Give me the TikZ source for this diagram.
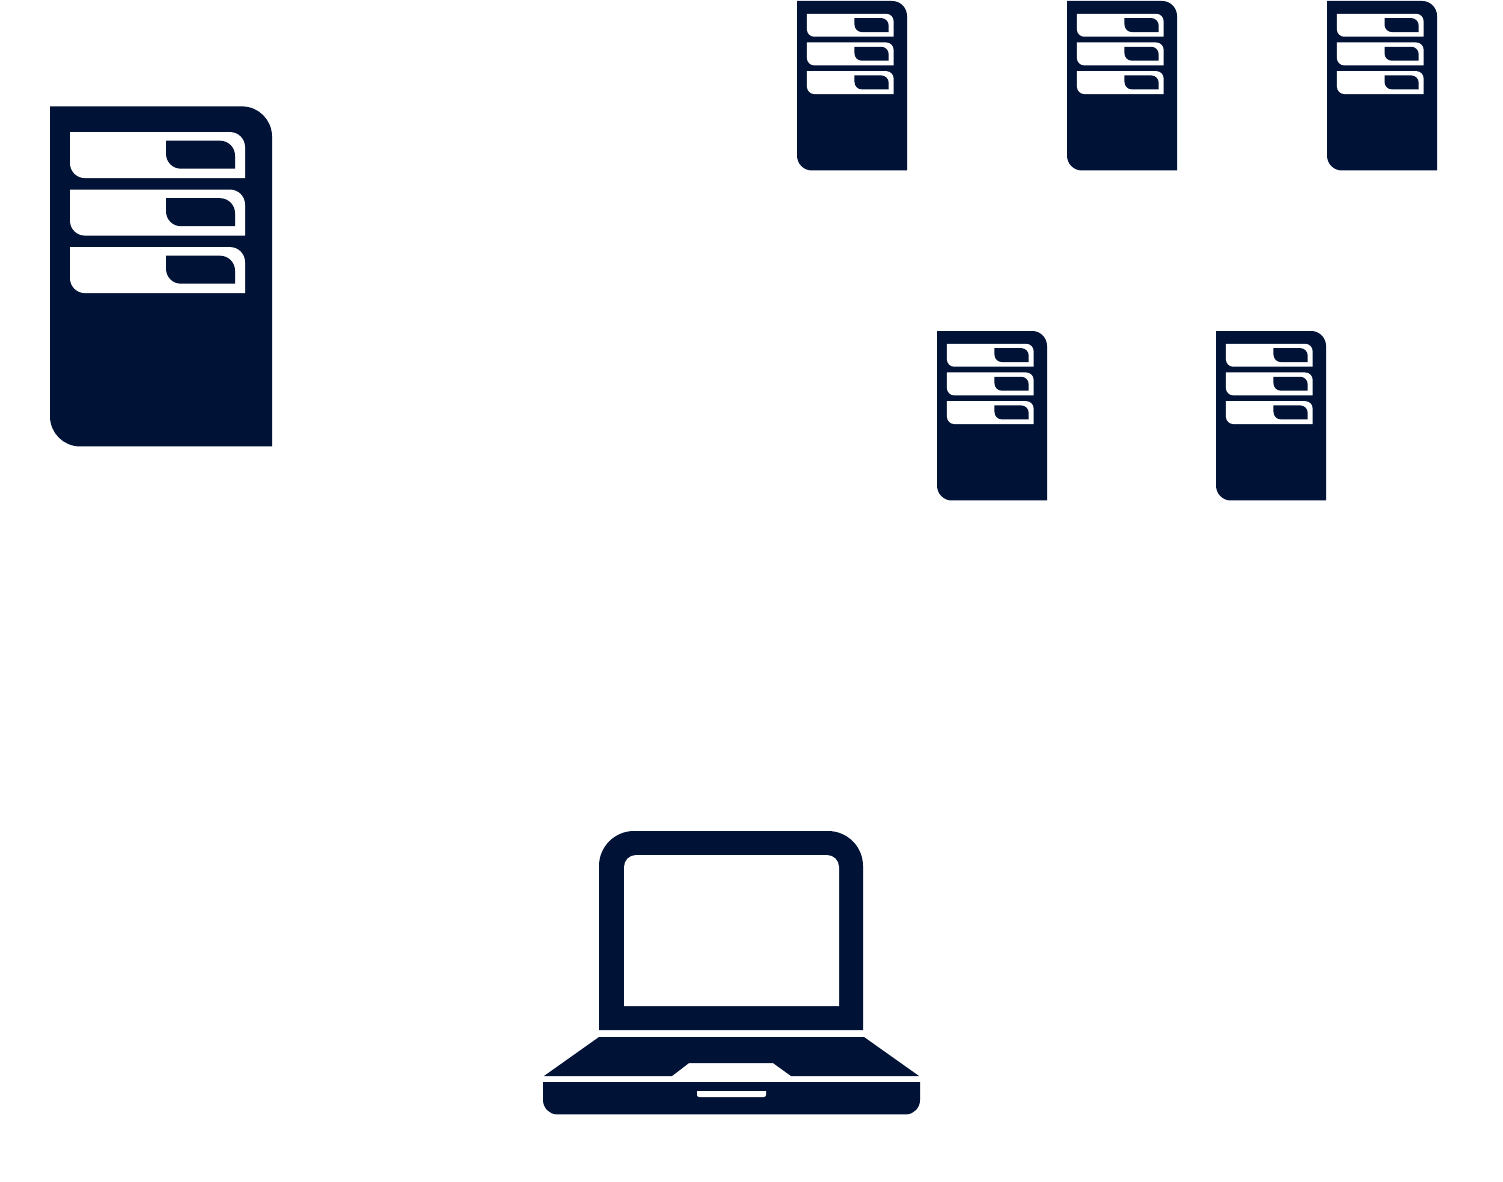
\documentclass[tikz,border=0pt]{standalone}
\usetikzlibrary{backgrounds}
\definecolor{navy}{HTML}{001235}
\tikzstyle{dark}=[fill=navy,draw=none]
\tikzstyle{hole}=[fill=white,draw=none]
\tikzstyle{small}=[xscale=0.4955,yscale=0.4985]
\tikzset{
	rack/.pic={
		\path [style=dark] (0, 0) -- (192, 0) .. controls (208.5, 0) and (222, 13.5) .. (222, 30) -- (222, 340) -- (30, 340) .. controls (13.5, 340) and (0, 326.5) .. (0, 310) -- cycle;
		\foreach \slot in {0, 57.5, 115} {
			\path [style=hole] (20, 25.7+\slot) -- (180, 25.7+\slot) .. controls (188.3, 25.7+\slot) and (195, 32.4+\slot) .. (195, 40.7+\slot) -- (195, 71.7+\slot) -- (35, 71.7+\slot) .. controls (26.7, 71.7+\slot) and (20, 65+\slot) .. (20, 56.7+\slot) -- cycle;
			\path [style=dark] (116, 34.3+\slot) -- (170, 34.3+\slot) .. controls (178.3, 34.3+\slot) and (185, 41+\slot) .. (185, 49.3+\slot) -- (185, 62.3+\slot) -- (131, 62.3+\slot) .. controls (122.7, 62.3+\slot) and (116, 55.6+\slot) .. (116, 47.3+\slot) -- cycle;
		}
	}
}

\begin{document}
\begin{tikzpicture}[x=0.5pt, y=-0.5pt]
	\useasboundingbox (0, 0) rectangle (1503, 1182);
	% racks
	\pic (main) at (50, 106.4) {rack};
	\pic [style=small] (top1) at (797, 1) {rack};
	\pic [style=small] (top2) at (1067, 1) {rack};
	\pic [style=small] (top3) at (1327, 1) {rack};
	\pic [style=small] (mid1) at (937, 331) {rack};
	\pic [style=small] (mid2) at (1216, 331) {rack};
	% laptop
	\path [style=dark] (599, 1030) -- (599, 866) .. controls (599, 846.7) and (614.7, 831) .. (634, 831) -- (828, 831) .. controls (847.3, 831) and (863, 846.7) .. (863, 866) -- (863, 1030) -- cycle;
	\path [style=hole] (624, 1006) -- (624, 867) .. controls (624, 860.4) and (629.4, 855) .. (636, 855) -- (827, 855) .. controls (833.6, 855) and (839, 860.4) .. (839, 867) -- (839, 1006) -- cycle;
	\path [style=dark] (599, 1037) -- (864, 1037) -- (919, 1076) -- (791, 1076) -- (773, 1063) -- (689, 1063) -- (672, 1076) -- (544, 1076) -- cycle;
	\path [style=dark] (543, 1082) -- (920, 1082) -- (920, 1100) .. controls (920, 1107.7) and (913.7, 1114.4) .. (906, 1114.4) -- (557, 1114.4) .. controls (549.3, 1114.4) and (543, 1107.7) .. (543, 1100) -- cycle;
	\path [style=hole] (697, 1091) -- (766, 1091) -- (766, 1095) .. controls (766, 1096.1) and (765.1, 1097) .. (764, 1097) -- (699, 1097) .. controls (697.9, 1097) and (697, 1096.1) .. (697, 1095) -- cycle;
\end{tikzpicture}
\end{document}
